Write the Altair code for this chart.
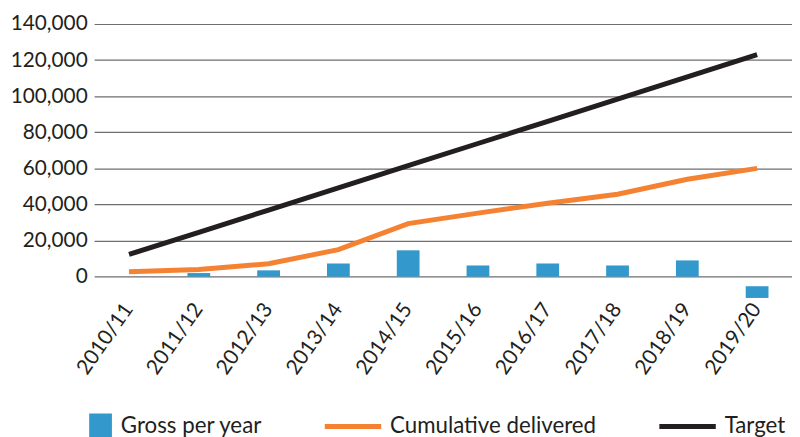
import altair as alt
import pandas as pd

years = ["2010/11", "2011/12", "2012/13", "2013/14", "2014/15",
         "2015/16", "2016/17", "2017/18", "2018/19", "2019/20"]
gross_top = [0, 2000, 3500, 7300, 14600, 6200, 7300, 6200, 9000, -5300]
gross_base = [0, 0, 0, 0, 0, 0, 0, 0, 0, -11800]
cumulative = [2750, 4000, 7150, 15000, 29400, 35200, 40700, 45700, 54000, 60000]
target = [12300, 24600, 36900, 49200, 61500, 73800, 86100, 98400, 110700, 123000]
series = ["Gross per year", "Cumulative delivered", "Target"]
colors = ["#3399cc", "#f58232", "#231f20"]
y_ticks = [0, 20000, 40000, 60000, 80000, 100000, 120000, 140000]

FONT = "Lato"

df = pd.DataFrame({"year": years, "gross": gross_top, "base": gross_base,
                   "cumulative": cumulative, "target": target})
leg = pd.DataFrame({"series": series})

x_enc = alt.X("year:N", sort=years,
              scale=alt.Scale(paddingInner=0.1, paddingOuter=0.05),
              axis=alt.Axis(title=None, labelAngle=-55, labelAlign="right",
                            labelBaseline="middle", ticks=False, domain=False,
                            labelPadding=6, labelFont=FONT, labelFontSize=21,
                            labelColor="#231f20", grid=False))
y_scale = alt.Scale(domain=[-12500, 140000], nice=False, zero=False)
y_axis = alt.Axis(title=None, values=y_ticks, format=",.0f", ticks=False,
                  domain=False, labelPadding=7, labelFont=FONT,
                  labelFontSize=21, labelColor="#231f20", labelOverlap=False,
                  grid=True, gridColor="#6e6e6e", gridWidth=1.2)

bars = alt.Chart(df).mark_bar(size=23, color=colors[0]).encode(
    x=x_enc,
    y=alt.Y("gross:Q", scale=y_scale, axis=y_axis),
    y2="base:Q",
)

cum_line = alt.Chart(df).mark_line(color=colors[1], strokeWidth=5).encode(
    x=alt.X("year:N", sort=years), y=alt.Y("cumulative:Q", axis=y_axis))

tgt_line = alt.Chart(df).mark_line(color=colors[2], strokeWidth=5).encode(
    x=alt.X("year:N", sort=years), y=alt.Y("target:Q", axis=y_axis))

square = "M0.193,-0.44H1V0.44H0.193Z"
stroke = "M-1,-0.088H1V0.088H-1Z"

legend_cfg = dict(title=None, orient="none", legendX=-39, legendY=377,
                  direction="horizontal", symbolSize=3249, labelOffset=9,
                  columnPadding=63, labelFont=FONT, labelFontSize=22.5,
                  labelColor="#231f20", labelLimit=0, symbolStrokeWidth=0,
                  symbolOpacity=1)

legend_layer = alt.Chart(leg).transform_filter("false").mark_point(
    filled=True, opacity=1).encode(
    color=alt.Color("series:N", scale=alt.Scale(domain=series, range=colors),
                    legend=alt.Legend(**legend_cfg)),
    shape=alt.Shape("series:N", scale=alt.Scale(domain=series,
                                                range=[square, stroke, stroke]),
                    legend=alt.Legend(**legend_cfg)),
)

chart = alt.layer(bars, cum_line, tgt_line, legend_layer).properties(
    width=705, height=278,
    autosize=alt.AutoSizeParams(type="none"),
    padding={"left": 87, "top": 14, "right": 0, "bottom": 137},
    background="white",
).configure_view(stroke=None)

chart.save("out.html", embed_options={"renderer": "svg", "actions": False})
